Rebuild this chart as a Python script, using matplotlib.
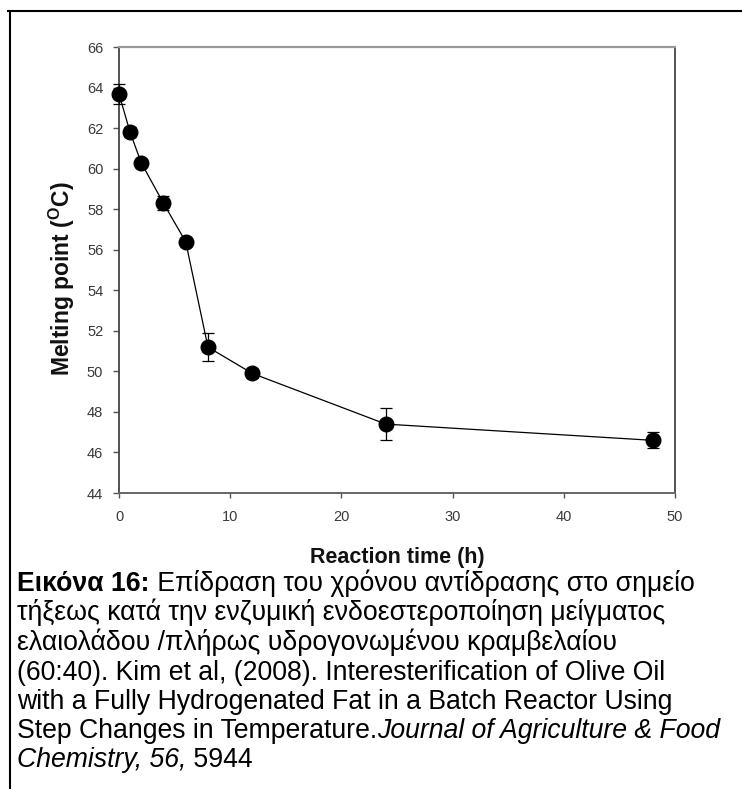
import matplotlib
matplotlib.use("Agg")
import matplotlib.pyplot as plt
from matplotlib.lines import Line2D

time_h = [0, 1, 2, 4, 6, 8, 12, 24, 48]
melting_point = [63.7, 61.8, 60.3, 58.3, 56.4, 51.2, 49.9, 47.4, 46.6]
error = [0.5, 0.25, 0.2, 0.35, 0.2, 0.7, 0.2, 0.8, 0.4]
x_ticks = [0, 10, 20, 30, 40, 50]
y_ticks = [44, 46, 48, 50, 52, 54, 56, 58, 60, 62, 64, 66]

caption_lines = [
    [("Εικόνα 16:", "bold", "normal"), (" Επίδραση του χρόνου αντίδρασης στο σημείο", "normal", "normal")],
    [("τήξεως κατά την ενζυμική ενδοεστεροποίηση μείγματος", "normal", "normal")],
    [("ελαιολάδου /πλήρως υδρογονωμένου κραμβελαίου", "normal", "normal")],
    [("(60:40). Kim et al, (2008). Interesterification of Olive Oil", "normal", "normal")],
    [("with a Fully Hydrogenated Fat in a Batch Reactor Using", "normal", "normal")],
    [("Step Changes in Temperature.", "normal", "normal"), ("Journal of Agriculture & Food", "normal", "italic")],
    [("Chemistry, 56,", "normal", "italic"), (" 5944", "normal", "normal")],
]

plt.rcParams['font.family'] = ['Liberation Sans', 'DejaVu Sans']
plt.rcParams['mathtext.fontset'] = 'custom'
plt.rcParams['mathtext.rm'] = 'Liberation Sans'
plt.rcParams['mathtext.bf'] = 'Liberation Sans:bold'

W, H = 742, 789
fig = plt.figure(figsize=(W / 100, H / 100), dpi=100)
ax = fig.add_axes([119 / W, 1 - 493 / H, (675 - 119) / W, (493 - 47.3) / H])

ax.errorbar(time_h, melting_point, yerr=error, fmt='-o', color='black',
            markersize=10.5, linewidth=0.9, elinewidth=0.9, capsize=4.3,
            capthick=0.9, clip_on=False, zorder=3)

ax.set_xlim(0, 50)
ax.set_ylim(44, 66)
ax.set_xticks(x_ticks)
ax.set_yticks(y_ticks)
ax.tick_params(direction='out', width=1, color='#555555',
               labelsize=10.5, labelcolor='#3a3a3a')
ax.tick_params(axis='y', length=4.3, pad=7)
ax.tick_params(axis='x', length=3.8, pad=8.5)
for side in ['left', 'right']:
    ax.spines[side].set_color('#444444')
    ax.spines[side].set_linewidth(1.3)
ax.spines['bottom'].set_color('#666666')
ax.spines['bottom'].set_linewidth(1.4)
ax.spines['top'].set_color('#999999')
ax.spines['top'].set_linewidth(1.6)

fig.text(397 / W, 1 - 557 / H, 'Reaction time (h)', fontsize=15.5,
         fontweight='bold', ha='center', va='center', color='#111111')
fig.text(62 / W, 1 - 279 / H, r'Melting point ($\mathbf{^{O}}$C)', fontsize=16.5,
         fontweight='bold', ha='center', va='center', rotation=90, color='#111111')

# border lines
fig.add_artist(Line2D([8 / W, 1.0], [1 - 11 / H, 1 - 11 / H], color='black', lw=1.5))
fig.add_artist(Line2D([9.5 / W, 9.5 / W], [1 - 11 / H, 0], color='black', lw=1.5))

fs = 19.2
baselines = [591, 620, 650, 680, 709, 738, 767]
fig.canvas.draw()
renderer = fig.canvas.get_renderer()
for line, yb in zip(caption_lines, baselines):
    x = 17
    for txt, wt, st in line:
        t = fig.text(x / W, 1 - yb / H, txt, fontsize=fs, fontweight=wt,
                     fontstyle=st, va='baseline', ha='left')
        bb = t.get_window_extent(renderer=renderer)
        x = bb.x1

fig.savefig('out.png', dpi=100)
